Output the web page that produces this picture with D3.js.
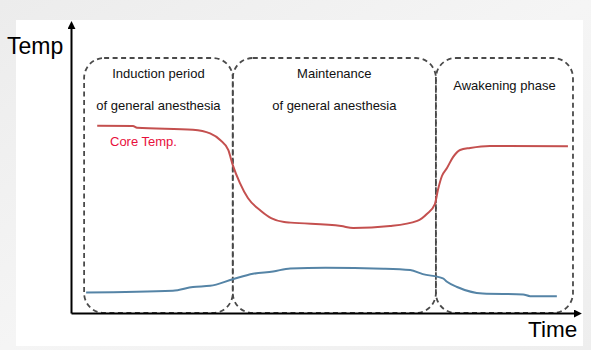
<!DOCTYPE html>
<html>
<head>
<meta charset="utf-8">
<script src="https://cdn.jsdelivr.net/npm/d3@7"></script>
<style>
  body { margin: 0; padding: 0; }
  svg { display: block; font-family: "Liberation Sans", Arial, sans-serif; }
</style>
</head>
<body>
<svg id="chart" width="591" height="350"></svg>
<script>
// phase boundaries (time units, 0-100)
var phaseBounds = [2.6, 32.1, 72.4, 99.6];
var phaseLabels = [
    ["Induction period", "of general anesthesia"],
    ["Maintenance", "of general anesthesia"],
    ["Awakening phase"]
];

// core temperature curve
var coreTime = [5.2, 12.3, 13.1, 24.2, 27.6, 29.6, 31.2, 32.1, 33.5, 35.1, 37.7, 39.7, 42.3, 43.6,
    53.6, 56.0, 63.3, 68.7, 70.6, 72.2, 72.8, 73.6, 74.6, 75.8, 77.2, 79.2, 83.1, 98.6];
var coreTemp = [65.5, 65.4, 64.8, 64.1, 62.8, 60.5, 57.0, 51.7, 45.5, 40.2, 35.7, 33.2, 31.8, 31.6,
    30.4, 29.7, 30.4, 32.2, 34.6, 38.1, 43.0, 47.9, 50.7, 54.5, 57.0, 57.7, 58.4, 58.3];

// peripheral (skin) temperature curve
var skinTime = [3.0, 20.2, 24.2, 27.6, 32.1, 36.1, 40.1, 43.5, 50.5, 62.0, 67.3, 69.8, 73.8, 74.6,
    76.6, 81.7, 89.7, 91.1, 96.4];
var skinTemp = [7.2, 7.8, 9.1, 9.5, 11.8, 13.7, 14.5, 15.6, 15.8, 15.5, 15.0, 13.6, 12.1, 10.9,
    9.1, 6.8, 6.5, 5.9, 5.9];

var svg = d3.select("#chart");

// background
var defs = svg.append("defs");
var grad = defs.append("linearGradient").attr("id", "bg")
    .attr("x1", "0").attr("y1", "0").attr("x2", "1").attr("y2", "1");
grad.append("stop").attr("offset", "0").attr("stop-color", "#ececec");
grad.append("stop").attr("offset", "0.5").attr("stop-color", "#f5f5f5");
grad.append("stop").attr("offset", "1").attr("stop-color", "#eeeeee");
svg.append("rect").attr("width", 591).attr("height", 350).attr("fill", "url(#bg)");
svg.append("rect").attr("x", 16).attr("y", 20).attr("width", 567).attr("height", 326).attr("fill", "#ffffff");

defs.append("marker").attr("id", "arrow")
    .attr("viewBox", "0 0 10 10").attr("refX", 2).attr("refY", 5)
    .attr("markerWidth", 4).attr("markerHeight", 4)
    .attr("orient", "auto")
    .append("path").attr("d", "M0,0L10,5L0,10Z").attr("fill", "#000");

var x = d3.scaleLinear().domain([0, 100]).range([71, 575]);
var y = d3.scaleLinear().domain([0, 100]).range([313, 27]);

// phase boxes
var boxTop = 58;
var g = svg.append("g");
for (var i = 0; i < phaseLabels.length; i++) {
    var x0 = x(phaseBounds[i]), x1 = x(phaseBounds[i + 1]);
    g.append("rect")
        .attr("x", x0).attr("y", boxTop)
        .attr("width", x1 - x0).attr("height", y(0) - boxTop)
        .attr("rx", 20).attr("ry", 20)
        .attr("fill", "none")
        .attr("stroke", "#4a4a4a")
        .attr("stroke-width", 1.8)
        .attr("stroke-dasharray", "5,3.5");
}

// phase labels
var labelPos = [[78, 110], [78, 110], [90]];
phaseLabels.forEach(function (lines, i) {
    var cx = (x(phaseBounds[i]) + x(phaseBounds[i + 1])) / 2;
    lines.forEach(function (t, j) {
        g.append("text")
            .attr("x", cx).attr("y", labelPos[i][j])
            .attr("text-anchor", "middle")
            .style("font-size", "13px")
            .attr("fill", "#111")
            .text(t);
    });
});

// lines
var coreData = coreTime.map(function (t, i) { return [t, coreTemp[i]]; });
var skinData = skinTime.map(function (t, i) { return [t, skinTemp[i]]; });
var line = d3.line()
    .x(function (d) { return x(d[0]); })
    .y(function (d) { return y(d[1]); })
    .curve(d3.curveMonotoneX);

svg.append("path").datum(skinData)
    .attr("d", line).attr("fill", "none")
    .attr("stroke", "#5584a6").attr("stroke-width", 2);
svg.append("path").datum(coreData)
    .attr("d", line).attr("fill", "none")
    .attr("stroke", "#c4504f").attr("stroke-width", 2);

svg.append("text")
    .attr("x", 110).attr("y", 146)
    .style("font-size", "13px")
    .attr("fill", "#e8103c")
    .text("Core Temp.");

// axes
var xAxis = d3.axisBottom(x).tickValues([]).tickSizeOuter(0);
var yAxis = d3.axisLeft(y).tickValues([]).tickSizeOuter(0);
var gx = svg.append("g").attr("transform", "translate(0," + y(0) + ")").call(xAxis);
var gy = svg.append("g").attr("transform", "translate(" + x(0) + ",0)").call(yAxis);
[gx, gy].forEach(function (a) {
    a.select(".domain")
        .attr("stroke", "#000")
        .attr("stroke-width", 2)
        .attr("marker-end", "url(#arrow)");
});

svg.append("text").attr("x", 7).attr("y", 54)
    .style("font-size", "23px").attr("fill", "#000").text("Temp");
svg.append("text").attr("x", 528).attr("y", 337)
    .style("font-size", "22.5px").attr("fill", "#000").text("Time");
</script>
</body>
</html>
